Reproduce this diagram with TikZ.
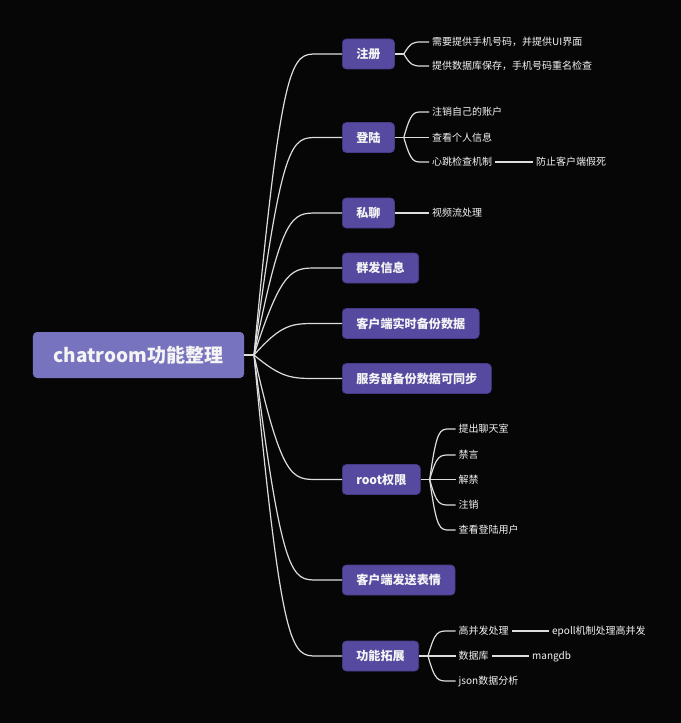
\documentclass[tikz,border=0pt]{standalone}
\usepackage{fontspec}
\setmainfont{Noto Sans CJK SC}
\usetikzlibrary{calc}
\definecolor{bgc}{HTML}{060606}
\definecolor{rootc}{HTML}{7873BE}
\definecolor{topc}{HTML}{564AA0}
\definecolor{topd}{HTML}{453B88}
\definecolor{linec}{HTML}{DDDDDD}
\definecolor{txtc}{HTML}{F4F4F4}
\begin{document}
\begin{tikzpicture}[x=1bp,y=-1bp,
  link/.style={draw=linec, line width=1.2bp},
  rootbox/.style={fill=rootc, rounded corners=4bp, text=txtc, font=\fontsize{19bp}{22bp}\selectfont\bfseries, minimum width=211bp, minimum height=46bp, inner sep=0pt, text height=16.7bp, text depth=2.3bp},
  topic/.style={fill=topc, draw=topd, line width=0.6bp, rounded corners=4bp, text=txtc, font=\fontsize{12.1bp}{14bp}\selectfont\bfseries, minimum height=30bp, inner xsep=14bp, inner ysep=0pt, text height=10.6bp, text depth=1.5bp, anchor=west},
  leaf/.style={text=txtc, font=\fontsize{10bp}{12bp}\selectfont, inner xsep=3bp, inner ysep=1bp, anchor=west, text height=8.8bp, text depth=1.2bp},
]
\path[use as bounding box, fill=bgc] (0,0) rectangle (681,723);

% root
\node[rootbox] (root) at (138.5,355) {chatroom功能整理};
\coordinate (o) at (254,355);

% topics
\node[topic] (b1) at (342,54) {注册};
\node[topic] (b2) at (342,137.5) {登陆};
\node[topic] (b3) at (342,213) {私聊};
\node[topic] (b4) at (342,268) {群发信息};
\node[topic] (b5) at (342,323.5) {客户端实时备份数据};
\node[topic] (b6) at (342,378.5) {服务器备份数据可同步};
\node[topic] (b7) at (342,479.5) {root权限};
\node[topic] (b8) at (342,580) {客户端发送表情};
\node[topic] (b9) at (342,656) {功能拓展};

% leaves
\node[leaf] (c11) at (429,42) {需要提供手机号码，并提供UI界面};
\node[leaf] (c12) at (429,66) {提供数据库保存，手机号码重名检查};
\node[leaf] (c21) at (429,112) {注销自己的账户};
\node[leaf] (c22) at (429,137.5) {查看个人信息};
\node[leaf] (c23) at (429,162) {心跳检查机制};
\node[leaf] (c24) at (533,162) {防止客户端假死};
\node[leaf] (c31) at (429,213) {视频流处理};
\node[leaf] (c71) at (455.5,429) {提出聊天室};
\node[leaf] (c72) at (455.5,455) {禁言};
\node[leaf] (c73) at (455.5,479.5) {解禁};
\node[leaf] (c74) at (455.5,505) {注销};
\node[leaf] (c75) at (455.5,530) {查看登陆用户};
\node[leaf] (c91) at (455.5,631) {高并发处理};
\node[leaf] (c92) at (455.5,656) {数据库};
\node[leaf] (c93) at (455.5,681) {json数据分析};
\node[leaf] (c94) at (549,631) {epoll机制处理高并发};
\node[leaf] (c95) at (529,656) {mangdb};

% root connectors
\draw[link] (root.east) -- (o);
\foreach \b in {b1,b2,b3,b4,b5,b6,b7,b8,b9}
  \draw[link] (o) .. controls ($(\b.west)+(-60,0)$) and ($(\b.west)+(-50,0)$) .. ($(\b.west)+(-25,0)$) -- (\b.west);

% sub connectors
\draw[link] (b1.east) -- ++(9,0) coordinate (f1);
\foreach \c in {c11,c12}
  \draw[link] (f1) .. controls ($(f1 |- \c.west)+(7,0)$) and ($(f1 |- \c.west)+(10,0)$) .. ($(f1 |- \c.west)+(18,0)$) -- (\c.west);
\draw[link] (b2.east) -- ++(9,0) coordinate (f2);
\foreach \c in {c21,c22,c23}
  \draw[link] (f2) .. controls ($(f2 |- \c.west)+(7,0)$) and ($(f2 |- \c.west)+(10,0)$) .. ($(f2 |- \c.west)+(18,0)$) -- (\c.west);
\draw[link] (c23.east) -- (c24.west);
\draw[link] (b3.east) -- (c31.west);
\draw[link] (b7.east) -- ++(9,0) coordinate (f7);
\foreach \c in {c71,c72,c73,c74,c75}
  \draw[link] (f7) .. controls ($(f7 |- \c.west)+(7,0)$) and ($(f7 |- \c.west)+(10,0)$) .. ($(f7 |- \c.west)+(20,0)$) -- (\c.west);
\draw[link] (b9.east) -- ++(9,0) coordinate (f9);
\foreach \c in {c91,c92,c93}
  \draw[link] (f9) .. controls ($(f9 |- \c.west)+(7,0)$) and ($(f9 |- \c.west)+(10,0)$) .. ($(f9 |- \c.west)+(20,0)$) -- (\c.west);
\draw[link] (c91.east) -- (c94.west);
\draw[link] (c92.east) -- (c95.west);
\end{tikzpicture}
\end{document}
